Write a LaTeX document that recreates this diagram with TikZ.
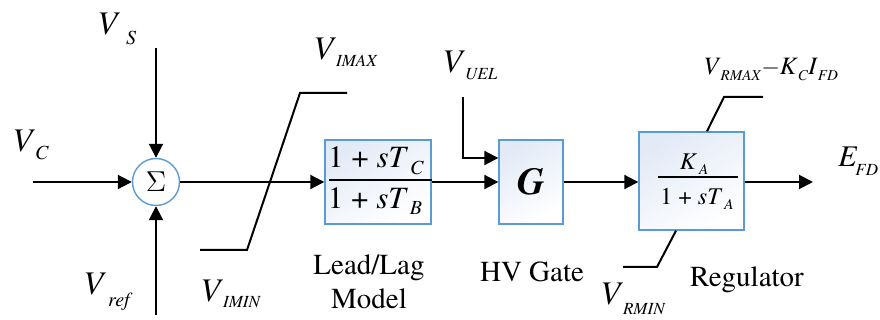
\documentclass[tikz,border=0pt]{standalone}
\usepackage{fontspec}
\setmainfont{texgyretermes}[Extension=.otf, UprightFont=*-regular, ItalicFont=*-italic, BoldFont=*-bold, BoldItalicFont=*-bolditalic]
\usetikzlibrary{arrows.meta, positioning, calc, shapes.geometric}
\definecolor{boxblue}{RGB}{91,155,213}
\definecolor{boxfill}{RGB}{226,234,246}
\newcommand{\lbl}[3][5pt]{\textit{#2}\raisebox{-#1}{\fontsize{8.5}{8.5}\selectfont\textit{#3}}}
\newcommand{\lblbig}[3][5pt]{\textit{#2}\raisebox{-#1}{\fontsize{10}{10}\selectfont\textit{#3}}}
\newcommand{\lblsmall}[2]{\textit{#1}\raisebox{-0.22em}{\fontsize{7.5}{7.5}\selectfont\textit{#2}}}
\begin{document}
\begin{tikzpicture}[x=0.5pt,y=-0.5pt,
    sigline/.style={line width=1pt, -{Triangle[length=7pt,width=7pt]}},
    limline/.style={line width=1pt},
    blockbox/.style={draw=boxblue, line width=0.7pt, shading=axis, top color=boxfill, bottom color=white, shading angle=30, inner sep=0pt},
    sumnode/.style={circle, draw=boxblue, line width=0.7pt, fill=white, minimum size=23.5pt, inner sep=0pt, font=\fontsize{15}{15}\selectfont},
    lab/.style={anchor=base west, inner sep=0pt, font=\fontsize{16.5}{19}\selectfont},
    caption/.style={anchor=base, inner sep=0pt, align=center, font=\fontsize{14.5}{17}\selectfont}]
	\useasboundingbox (0,0) rectangle (880,320);
	
	% Summing junction and blocks
	\node[sumnode] (sum) at (156,182) {$\Sigma$};
	\node[blockbox, minimum width=53pt, minimum height=42pt] (leadlag) at (378,182) {};
	\node[blockbox, minimum width=32pt, minimum height=42pt] (gate) at (531,182) {\fontsize{19}{19}\selectfont\bfseries\itshape G};
	\node[blockbox, minimum width=52.5pt, minimum height=49pt] (reg) at (691.5,181) {};
	
	% Transfer functions
	\node[inner sep=0pt, font=\fontsize{15.5}{15.5}\selectfont] (llnum) at (376,161) {1 + \textit{sT}\lblsmall{}{\fontsize{10}{10}\selectfont\kern1pt C}};
	\node[inner sep=0pt, font=\fontsize{15.5}{15.5}\selectfont] (llden) at (375,201) {1 + \textit{sT}\lblsmall{}{\fontsize{10}{10}\selectfont\kern1pt B}};
	\draw[line width=0.6pt] ($(leadlag.west)+(5,-2)$) -- ($(leadlag.east)+(0,-2)$);
	\node[inner sep=0pt, font=\fontsize{12}{12}\selectfont] (regnum) at (694,164) {\textit{K}\lblsmall{}{\kern1pt A}};
	\node[inner sep=0pt, font=\fontsize{12}{12}\selectfont] (regden) at (697,199) {1 + \textit{sT}\lblsmall{}{\kern1pt A}};
	\draw[line width=0.6pt] ($(reg.center)+(-33.5,-4)$) -- ($(reg.center)+(46.5,-4)$);
	
	% Signal paths
	\coordinate (vcin) at (33,182);
	\coordinate (vsin) at (156,48);
	\coordinate (vrefin) at (156,315);
	\coordinate (uelin) at (463,97);
	\coordinate (efdout) at (813,182);
	\draw[sigline] (vcin) -- (sum);
	\draw[sigline] (vsin) -- (sum);
	\draw[sigline] (vrefin) -- (sum);
	\draw[sigline] (sum) -- (leadlag);
	\draw[sigline] (leadlag) -- (gate);
	\draw[sigline] (uelin) |- ([yshift=12pt]gate.west);
	\draw[sigline] (gate.east) -- (gate.east -| reg.west);
	\draw[sigline] (reg.east |- efdout) -- (efdout);
	
	% Limiters
	\draw[limline] (200,250) -- (247,250) -- (300,93) -- (347,93);
	\draw[limline] ($(reg.north)+(15.5,0)$) -- (724,97) -- (763,97);
	\draw[limline] ($(reg.south)+(-15.5,0)$) -- (657,267) -- (623,267);
	
	% Signal labels
	\node[lab] (vslbl) at (97,35) {\lblbig{V}{\kern3pt S}};
	\node[lab] (vclbl) at (12,152) {\lblbig[4pt]{V}{C}};
	\node[lab] (vreflbl) at (83,295) {\lblbig[6pt]{V}{\kern1pt ref}};
	\node[lab] (viminlbl) at (200,302) {\lbl[3pt]{V}{IMIN}};
	\node[lab] (vimaxlbl) at (313,60) {\lbl[3.5pt]{V}{IMAX}};
	\node[lab] (vuellbl) at (442,73) {\lbl[3.5pt]{V}{UEL}};
	\node[lab, font=\fontsize{12.5}{14}\selectfont] (vrmaxlbl) at (703,75) {\lblsmall{V}{RMAX}$-$\textit{K}\lblsmall{}{C}\textit{I}\lblsmall{}{FD}};
	\node[lab] (vrminlbl) at (600,305) {\lbl[5pt]{V}{RMIN}};
	\node[lab, font=\fontsize{15}{18}\selectfont] (efdlbl) at (838,167) {\lbl[4.5pt]{E}{\kern-1pt FD}};
	
	% Block captions
	\node[caption] (llcap) at (369,309) {Lead/Lag\\Model};
	\node[caption] (gatecap) at (532,282) {HV Gate};
	\node[caption] (regcap) at (747,287) {Regulator};
	
\end{tikzpicture}
\end{document}
